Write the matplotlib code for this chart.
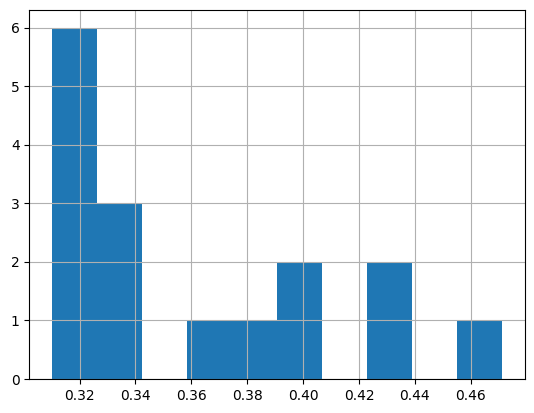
import matplotlib
matplotlib.use("Agg")
import matplotlib.pyplot as plt
import pandas as pd

# sample values (10 bins, counts 6,3,0,1,1,2,0,2,0,1)
values = [0.3101, 0.312, 0.315, 0.318, 0.321, 0.324,
          0.329, 0.334, 0.339,
          0.365,
          0.385,
          0.395, 0.402,
          0.428, 0.434,
          0.4713]

data = pd.Series(values)

fig = plt.figure(figsize=(5.34, 4.13), dpi=100)
ax = fig.add_axes([0.0549, 0.0823, 0.928, 0.893])
data.hist(ax=ax, bins=10)

fig.savefig("out.png", dpi=100)
